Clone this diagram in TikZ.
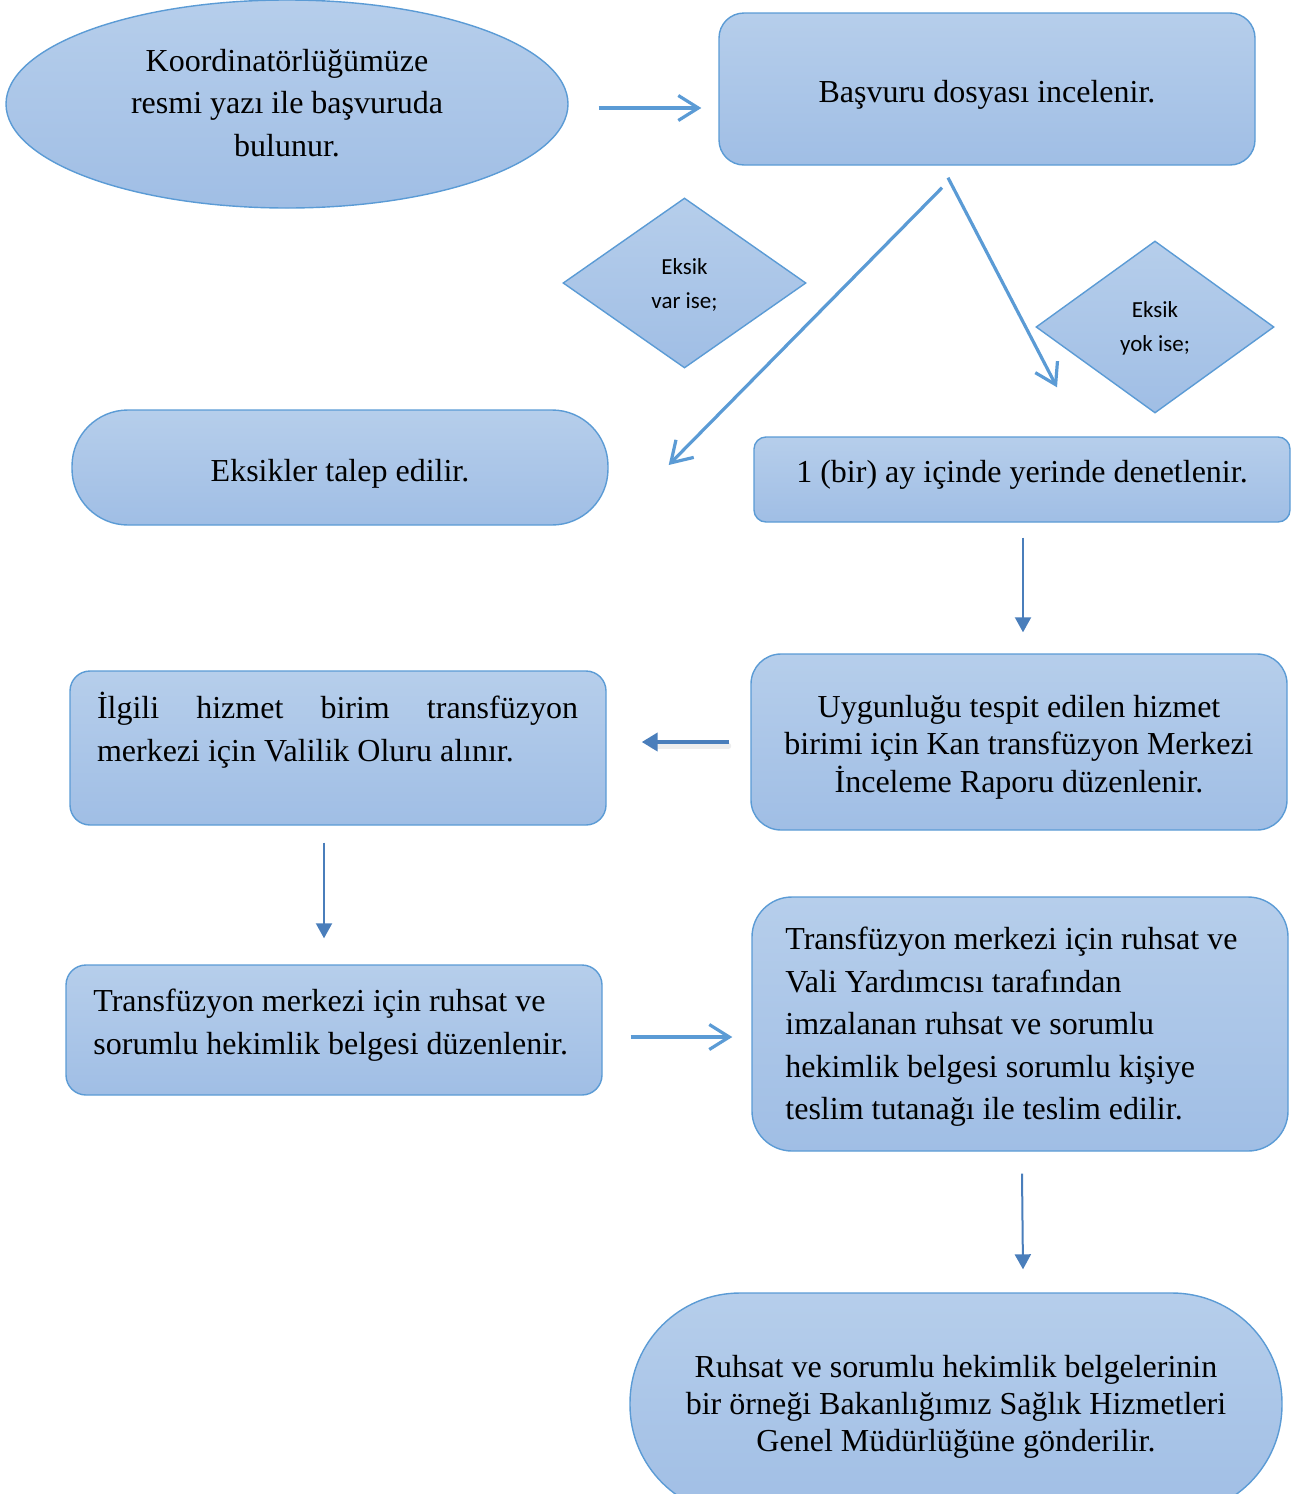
\documentclass[tikz,border=0pt]{standalone}
\usepackage{fontspec}
\setmainfont{Liberation Serif}
\newfontfamily\diafont{Carlito}
\usetikzlibrary{shapes.geometric,arrows.meta,calc}
\definecolor{fillhi}{RGB}{182,206,235}
\definecolor{filllo}{RGB}{160,190,229}
\definecolor{edgeblue}{RGB}{91,155,213}
\definecolor{arrowdark}{RGB}{74,126,187}
\begin{document}
\begin{tikzpicture}[x=0.5pt,y=-0.5pt,
  shapebase/.style={draw=edgeblue, line width=0.7pt, top color=fillhi,
    bottom color=filllo, inner sep=0pt},
  card/.style={shapebase, rectangle, minimum width=268pt},
  choice/.style={shapebase, diamond},
  txt/.style={inner sep=0pt, text=black, font=\fontsize{16}{21.25}\selectfont},
  smalltxt/.style={inner sep=0pt, text=black, align=center,
    font=\diafont\fontsize{11.5}{17}\selectfont},
  flow/.style={draw=edgeblue, line width=1.6pt,
    -{Straight Barb[length=10pt,width=12.5pt]}},
  thinflow/.style={draw=arrowdark, line width=1pt,
    -{Triangle[length=7.5pt,width=8pt]}},
  boldflow/.style={draw=arrowdark, line width=2pt,
    -{Triangle[length=8pt,width=9pt]}}
]
\useasboundingbox (0,0) rectangle (1296,1494);
\clip (0,0) rectangle (1296,1494);

% process shapes
\node[shapebase, ellipse, minimum width=281pt, minimum height=104pt] (start) at (287,104) {};
\node[card, minimum height=76pt, rounded corners=12.5pt] (review) at (987,89) {};
\node[choice, minimum width=121.5pt, minimum height=85pt] (missyes) at (684.5,283) {};
\node[choice, minimum width=119pt, minimum height=86pt] (missno) at (1155,327) {};
\node[card, minimum height=57.5pt, rounded corners=28pt] (request) at (340,467.5) {};
\node[card, minimum height=42.5pt, rounded corners=6pt] (inspect) at (1022,479.5) {};
\node[card, minimum height=88pt, rounded corners=15pt] (report) at (1019,742) {};
\node[card, minimum height=77pt, rounded corners=10pt] (approval) at (338,748) {};
\node[card, minimum height=65pt, rounded corners=10pt] (license) at (334,1030) {};
\node[card, minimum height=127pt, rounded corners=20pt] (deliver) at (1020,1024) {};
\node[shapebase, rectangle, minimum width=326pt, minimum height=111pt,
  rounded corners=55pt] (notify) at (956,1404) {};

% texts
\node[txt, align=center] (starttext) at (287,103)
  {Koordinatörlüğümüze\\resmi yazı ile başvuruda\\bulunur.};
\node[txt] (reviewtext) at (987,95) {Başvuru dosyası incelenir.};
\node[smalltxt] (missyestext) at (684.5,285) {Eksik\\var ise;};
\node[smalltxt] (missnotext) at (1155,328) {Eksik\\yok ise;};
\node[txt] (requesttext) at (340,473.5) {Eksikler talep edilir.};
\node[txt] (inspecttext) at (1022,474.5) {1 (bir) ay içinde yerinde denetlenir.};
\node[txt, align=center, font=\fontsize{16}{18.75}\selectfont] (reporttext) at (1019,747)
  {Uygunluğu tespit edilen hizmet\\birimi için Kan transfüzyon Merkezi\\İnceleme Raporu düzenlenir.};
\node[txt, text width=240.5pt, align=justify, font=\fontsize{16}{21.5}\selectfont]
  (approvaltext) at (337.5,730.5)
  {İlgili hizmet birim transfüzyon\linebreak merkezi için Valilik Oluru alınır.};
\node[txt, anchor=west, align=left, font=\fontsize{16}{21.5}\selectfont]
  (licensetext) at (93,1025.5)
  {Transfüzyon merkezi için ruhsat ve\\sorumlu hekimlik belgesi düzenlenir.};
\node[txt, anchor=west, align=left] (delivertext) at (785,1027)
  {Transfüzyon merkezi için ruhsat ve\\Vali Yardımcısı tarafından\\imzalanan ruhsat ve sorumlu\\hekimlik belgesi sorumlu kişiye\\teslim tutanağı ile teslim edilir.};
\node[txt, align=center, font=\fontsize{16}{18.5}\selectfont] (notifytext) at (956,1407)
  {Ruhsat ve sorumlu hekimlik belgelerinin\\bir örneği Bakanlığımız Sağlık Hizmetleri\\Genel Müdürlüğüne gönderilir.};

% connectors
\draw[flow] ($(start.east)+(30,4)$) -- ($(review.west)+(-17,19)$);
\draw[flow] ($(review.south)+(-45,22)$) -- ($(request.east)+(60,-2.5)$);
\draw[flow] ($(review.south)+(-39,12)$) -- ($(inspect.north)+(35,-49)$);
\draw[thinflow] ($(inspect.south)+(1,15)$) -- ($(report.north)+(4,-21)$);
\draw[draw=black!40, line width=3pt, opacity=0.18, line cap=round]
  ($(report.west)+(-22,4)$) -- ($(approval.east)+(46,-2)$);
\draw[boldflow] ($(report.west)+(-21,0)$) -- ($(approval.east)+(35,-6)$);
\draw[thinflow] ($(approval.south)+(-14,17)$) -- ($(license.north)+(-10,-26)$);
\draw[flow] ($(license.east)+(28,7)$) -- ($(deliver.west)+(-19,13)$);
\draw[thinflow] ($(deliver.south)+(2,22)$) -- ($(notify.north)+(67,-23)$);
\end{tikzpicture}
\end{document}
